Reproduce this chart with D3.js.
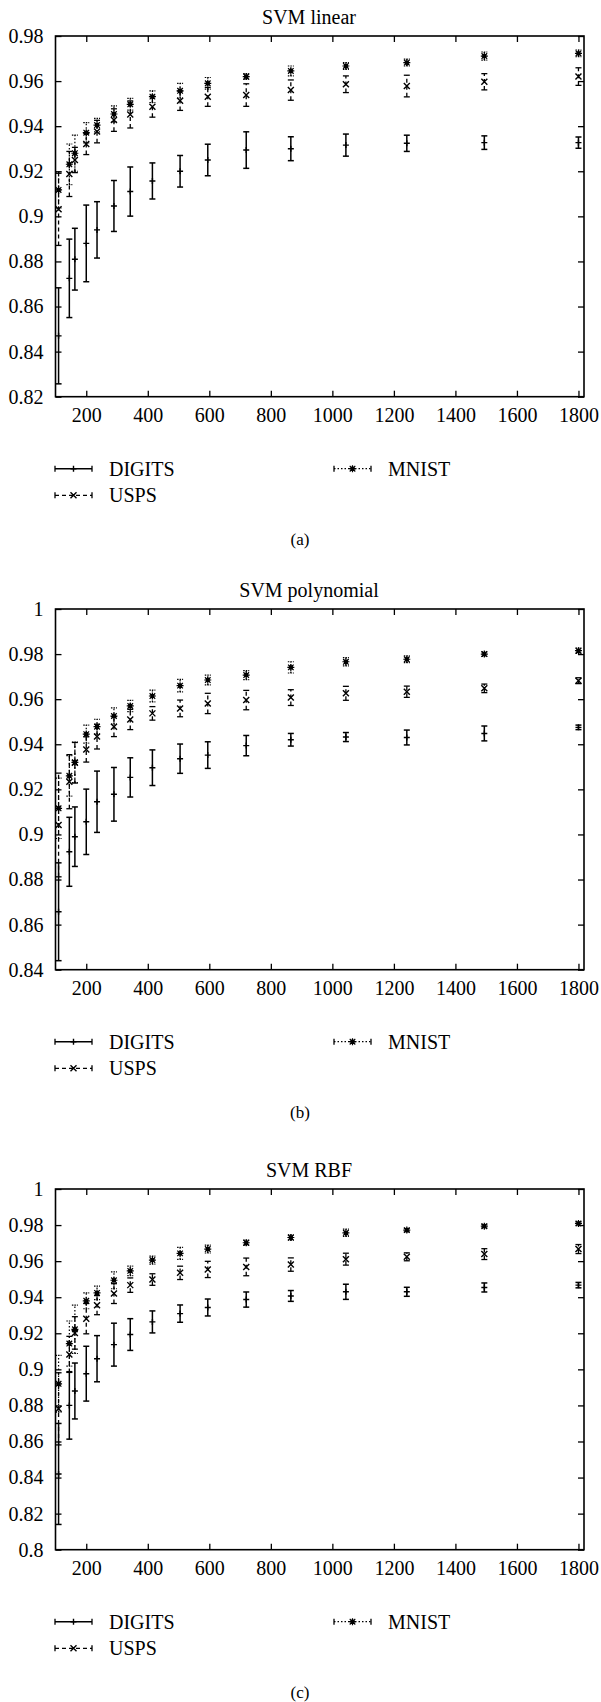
<!DOCTYPE html>
<html lang="en">
<head>
<meta charset="UTF-8">
<title>SVM learning curves</title>
<style>
  body { margin: 0; background: #fff; }
  svg, svg text { font-family: 'Liberation Serif', 'DejaVu Serif', serif !important; fill: #000; }
</style>
<script src="https://d3js.org/d3.v7.min.js"></script>
</head>
<body>
<script>

// training set sizes (x) shared by all three panels
var trainSizes = [110, 145, 163, 200, 235, 290, 343, 415, 505, 595, 720, 865, 1044, 1242, 1494, 1800];
var xTicks = [200, 400, 600, 800, 1000, 1200, 1400, 1600, 1800];

var seriesNames = ["DIGITS", "USPS", "MNIST"];
var panelTitles = ["SVM linear", "SVM polynomial", "SVM RBF"];
var panelCaptions = ["(a)", "(b)", "(c)"];

var linearYTicks = [0.82, 0.84, 0.86, 0.88, 0.9, 0.92, 0.94, 0.96, 0.98];
var polyYTicks = [0.84, 0.86, 0.88, 0.9, 0.92, 0.94, 0.96, 0.98, 1];
var rbfYTicks = [0.8, 0.82, 0.84, 0.86, 0.88, 0.9, 0.92, 0.94, 0.96, 0.98, 1];

// (a) SVM linear
var linearDigits = [0.847, 0.8725, 0.881, 0.888, 0.894, 0.9046, 0.911, 0.9157, 0.920, 0.925, 0.9294, 0.930, 0.9316, 0.9324, 0.9327, 0.9327];
var linearDigitsErr = [0.0213, 0.0174, 0.0137, 0.017, 0.0125, 0.0113, 0.0109, 0.008, 0.007, 0.007, 0.0081, 0.0053, 0.0049, 0.0036, 0.003, 0.0025];
var linearUsps = [0.9031, 0.9188, 0.925, 0.9321, 0.9376, 0.9427, 0.9452, 0.9486, 0.9513, 0.953, 0.9538, 0.956, 0.9586, 0.9578, 0.9597, 0.962];
var linearUspsErr = [0.016, 0.010, 0.0056, 0.0047, 0.005, 0.005, 0.006, 0.0046, 0.0043, 0.0042, 0.005, 0.0045, 0.0037, 0.0048, 0.0036, 0.0039];
var linearMnist = [0.9117, 0.9231, 0.928, 0.9371, 0.9405, 0.9454, 0.9497, 0.9531, 0.9557, 0.959, 0.962, 0.9645, 0.9667, 0.9682, 0.9711, 0.9723];
var linearMnistErr = [0.008, 0.009, 0.008, 0.0045, 0.003, 0.0036, 0.0026, 0.0026, 0.0033, 0.0026, 0.0013, 0.0022, 0.0015, 0.0015, 0.0018, 0.0015];

// (b) SVM polynomial
var polyDigits = [0.8657, 0.8923, 0.899, 0.9056, 0.9145, 0.9178, 0.9253, 0.9296, 0.9336, 0.9352, 0.9394, 0.942, 0.9432, 0.943, 0.9448, 0.9475];
var polyDigitsErr = [0.0217, 0.0153, 0.0132, 0.0145, 0.0136, 0.0119, 0.0087, 0.0079, 0.0065, 0.0059, 0.0045, 0.0028, 0.002, 0.0033, 0.0033, 0.001];
var polyUsps = [0.9042, 0.9234, 0.9318, 0.9377, 0.9434, 0.9478, 0.951, 0.9537, 0.9559, 0.9581, 0.9596, 0.9607, 0.9626, 0.9633, 0.9648, 0.9682];
var polyUspsErr = [0.023, 0.012, 0.009, 0.0056, 0.0055, 0.0044, 0.0045, 0.003, 0.0037, 0.0045, 0.0043, 0.0035, 0.0031, 0.0025, 0.0019, 0.0013];
var polyMnist = [0.9116, 0.926, 0.932, 0.9445, 0.9478, 0.9525, 0.957, 0.9614, 0.966, 0.9685, 0.9707, 0.9741, 0.9766, 0.9777, 0.98, 0.9815];
var polyMnistErr = [0.0134, 0.009, 0.009, 0.004, 0.0033, 0.0036, 0.0025, 0.0026, 0.0028, 0.0022, 0.002, 0.0025, 0.0018, 0.0015, 0.001, 0.0012];

// (c) SVM RBF
var rbfDigits = [0.842, 0.88, 0.888, 0.8976, 0.9059, 0.9137, 0.9193, 0.9263, 0.9309, 0.9343, 0.9387, 0.9407, 0.943, 0.943, 0.9454, 0.9467];
var rbfDigitsErr = [0.028, 0.0187, 0.0155, 0.0152, 0.0128, 0.0119, 0.0088, 0.0061, 0.0048, 0.0047, 0.0042, 0.003, 0.0042, 0.0025, 0.0025, 0.0015];
var rbfUsps = [0.8781, 0.9083, 0.9202, 0.9281, 0.9356, 0.942, 0.9467, 0.9498, 0.9535, 0.9554, 0.9568, 0.9581, 0.9611, 0.9624, 0.9639, 0.9667];
var rbfUspsErr = [0.02, 0.01, 0.009, 0.0084, 0.0053, 0.0055, 0.004, 0.0032, 0.0037, 0.0045, 0.0049, 0.0037, 0.0033, 0.0022, 0.003, 0.0025];
var rbfMnist = [0.892, 0.9143, 0.9222, 0.938, 0.9424, 0.9494, 0.9546, 0.9606, 0.9643, 0.9667, 0.9702, 0.9731, 0.9757, 0.9772, 0.9794, 0.9809];
var rbfMnistErr = [0.0157, 0.0125, 0.0134, 0.0044, 0.0037, 0.0047, 0.0026, 0.0022, 0.0033, 0.0022, 0.0015, 0.0015, 0.002, 0.001, 0.001, 0.001];


var width = 601, height = 1702;
var left = 55.5, right = 584, plotH = 360.7;
var panelTops = [36, 609, 1189];
var serif = "'Liberation Serif', 'DejaVu Serif', serif";

// line style / marker per series: DIGITS solid +, USPS dashed x, MNIST dotted *
var styles = [
    {dash: null,    width: 1.5, marker: "plus"},
    {dash: "4,3",   width: 1.3, marker: "cross"},
    {dash: "1.5,2", width: 1.2, marker: "star"}
];

var svg = d3.select("body")
            .append("svg")
            .attr("width", width)
            .attr("height", height)
            .style("font-family", serif);

var xScale = d3.scaleLinear()
               .domain([100, 1818])
               .range([left, right]);

var fmt = function(d){ return String(+d.toFixed(2)); };

function drawMarker(g, type, x, y) {
    if (type == "plus") {
        g.append("path").attr("d", "M" + (x-3) + "," + y + "H" + (x+3) + "M" + x + "," + (y-3) + "V" + (y+3))
         .attr("stroke", "#000").attr("stroke-width", 1.4);
    } else if (type == "cross") {
        g.append("path").attr("d", "M" + (x-3) + "," + (y-3) + "L" + (x+3) + "," + (y+3) + "M" + (x-3) + "," + (y+3) + "L" + (x+3) + "," + (y-3))
         .attr("stroke", "#000").attr("stroke-width", 1.4);
    } else {
        g.append("rect").attr("x", x-2).attr("y", y-2).attr("width", 4).attr("height", 4).attr("fill", "#000");
        g.append("path").attr("d", "M" + (x-3.5) + "," + y + "H" + (x+3.5) + "M" + x + "," + (y-3.5) + "V" + (y+3.5)
                                 + "M" + (x-2.8) + "," + (y-2.8) + "L" + (x+2.8) + "," + (y+2.8) + "M" + (x-2.8) + "," + (y+2.8) + "L" + (x+2.8) + "," + (y-2.8))
         .attr("stroke", "#000").attr("stroke-width", 1.2);
    }
}

function drawPanel(i, yTicks, series) {
    var top = panelTops[i], bottom = top + plotH;
    var yScale = d3.scaleLinear()
                   .domain(d3.extent(yTicks))
                   .range([bottom, top])
                   .clamp(true);
    var g = svg.append("g");

    // axes, gnuplot style: inward ticks mirrored on all four sides
    var axes = [
        {ax: d3.axisBottom(xScale).tickValues(xTicks).tickFormat(d3.format("d")).tickPadding(11), t: "translate(0," + bottom + ")"},
        {ax: d3.axisTop(xScale).tickValues(xTicks).tickFormat(""), t: "translate(0," + top + ")"},
        {ax: d3.axisLeft(yScale).tickValues(yTicks).tickFormat(fmt).tickPadding(12), t: "translate(" + left + ",0)"},
        {ax: d3.axisRight(yScale).tickValues(yTicks).tickFormat(""), t: "translate(" + right + ",0)"}
    ];
    axes.forEach(function(a){
        var ag = g.append("g")
                  .attr("transform", a.t)
                  .call(a.ax.tickSizeInner(-6).tickSizeOuter(0))
                  .attr("font-family", serif)
                  .attr("font-size", 20);
        ag.select(".domain").remove();
        ag.selectAll("line").attr("stroke-width", 1.3);
        ag.selectAll("text").style("font-family", serif).attr("font-size", 20);
    });

    g.append("rect")
     .attr("x", left).attr("y", top)
     .attr("width", right - left).attr("height", plotH)
     .attr("fill", "none").attr("stroke", "#000").attr("stroke-width", 1.6);

    // title
    g.append("text")
     .attr("x", 309).attr("y", top - 12)
     .attr("text-anchor", "middle")
     .attr("font-size", 20)
     .style("font-family", serif)
     .text(panelTitles[i]);

    // error bars
    series.forEach(function(s, k){
        var st = styles[k];
        var sg = g.append("g").attr("class", "series");
        trainSizes.forEach(function(xv, j){
            var x = xScale(xv);
            var y0 = yScale(s.mean[j] - s.err[j]), y1 = yScale(s.mean[j] + s.err[j]);
            sg.append("line")
              .attr("x1", x).attr("x2", x).attr("y1", y0).attr("y2", y1)
              .attr("stroke", "#000").attr("stroke-width", st.width)
              .attr("stroke-dasharray", st.dash);
            [y0, y1].forEach(function(yc){
                sg.append("line")
                  .attr("x1", x - 3).attr("x2", x + 3).attr("y1", yc).attr("y2", yc)
                  .attr("stroke", "#000").attr("stroke-width", st.width)
                  .attr("stroke-dasharray", k == 2 ? "1.5,1" : null);
            });
            drawMarker(sg, st.marker, x, yScale(s.mean[j]));
        });
    });

    // legend
    var legendPos = [[55, bottom + 72], [55, bottom + 98.6], [334, bottom + 72]];
    seriesNames.forEach(function(name, k){
        var st = styles[k], lx = legendPos[k][0], ly = legendPos[k][1];
        var lg = g.append("g");
        lg.append("line")
          .attr("x1", lx).attr("x2", lx + 37).attr("y1", ly).attr("y2", ly)
          .attr("stroke", "#000").attr("stroke-width", st.width)
          .attr("stroke-dasharray", st.dash);
        [lx, lx + 37].forEach(function(ex){
            lg.append("line")
              .attr("x1", ex).attr("x2", ex).attr("y1", ly - 3).attr("y2", ly + 3)
              .attr("stroke", "#000").attr("stroke-width", 1.3);
        });
        drawMarker(lg, st.marker, lx + 18.5, ly);
        lg.append("text")
          .attr("x", lx + 54).attr("y", ly).attr("dy", "0.35em")
          .attr("font-size", 20)
          .style("font-family", serif)
          .text(name);
    });

    // caption
    g.append("text")
     .attr("x", 300).attr("y", bottom + 142).attr("dy", "0.35em")
     .attr("text-anchor", "middle")
     .attr("font-size", 17)
     .style("font-family", serif)
     .text(panelCaptions[i]);
}

drawPanel(0, linearYTicks, [
    {mean: linearDigits, err: linearDigitsErr},
    {mean: linearUsps, err: linearUspsErr},
    {mean: linearMnist, err: linearMnistErr}
]);
drawPanel(1, polyYTicks, [
    {mean: polyDigits, err: polyDigitsErr},
    {mean: polyUsps, err: polyUspsErr},
    {mean: polyMnist, err: polyMnistErr}
]);
drawPanel(2, rbfYTicks, [
    {mean: rbfDigits, err: rbfDigitsErr},
    {mean: rbfUsps, err: rbfUspsErr},
    {mean: rbfMnist, err: rbfMnistErr}
]);

</script>
</body>
</html>
